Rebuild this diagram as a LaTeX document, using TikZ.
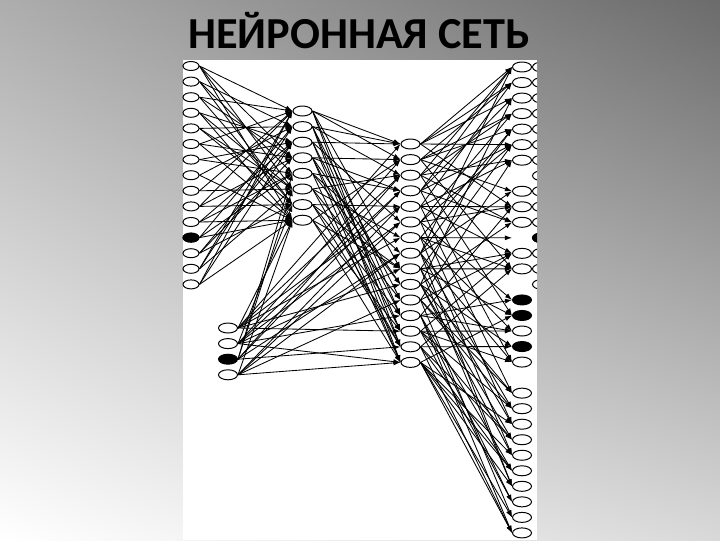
\documentclass[tikz,border=0pt]{standalone}
\usepackage{fontspec}
\setmainfont{Carlito}
\usetikzlibrary{shapes.geometric,arrows.meta,shadings}
\tikzset{
  neuron/.style={ellipse,draw,line width=0.7pt,minimum width=4.75mm,minimum height=2.5mm,inner sep=0pt,fill=white},
  small neuron/.style={neuron,minimum width=4mm,minimum height=2.25mm},
  active/.style={fill=black},
  link/.style={-{Latex[length=5pt,width=3.5pt]},line width=0.6pt},
}
\begin{document}
\begin{tikzpicture}[x=0.025cm,y=-0.025cm]
\useasboundingbox (0,0) rectangle (720,540);
\shade[upper left=black!32,upper right=black!58,lower left=white,lower right=black!15] (0,0) rectangle (720,540);
\draw (359,48) node [anchor=base] (title) {\fontsize{31.5}{31.5}\selectfont\bfseries НЕЙРОННАЯ СЕТЬ};
\fill[white] (183,60) rectangle (537,540);
% second output column, cut by the edge of the panel
\begin{scope}
\clip (183,60) rectangle (537,540);
\foreach \k in {0,...,14}
  \draw (542,{67+15.53*\k}) node [neuron] (r\k) {};
\draw (542,{67+15.53*11}) node [neuron,active] (r11) {};
\end{scope}
% input layers
\foreach \i in {1,...,15}
  \draw (191,{66+15.6*(\i-1)}) node [small neuron] (in\i) {};
\draw (191,{66+15.6*11}) node [small neuron,active] (in12) {};
\foreach \i in {1,2,4}
  \draw (228,{328+15.6*(\i-1)}) node [neuron] (ib\i) {};
\draw (228,{328+15.6*2}) node [neuron,active] (ib3) {};
% hidden layers
\foreach \i in {1,...,8}
  \draw (302.5,{111+15.6*(\i-1)}) node [neuron] (h\i) {};
\foreach \i in {1,...,15}
  \draw (410.5,{144+15.6*(\i-1)}) node [neuron] (g\i) {};
% output layer
\foreach \k in {0,1,2,3,4,5,6,8,9,10,12,13,17,19,21,22,23,24,25,26,27,28,29,30}
  \draw (522,{67+15.53*\k}) node [neuron] (o\k) {};
\foreach \k in {15,16,18}
  \draw (522,{67+15.53*\k}) node [neuron,active] (o\k) {};
\draw (522,{67+15.53*11}) node [neuron,draw=none,fill=none] (o11) {};
% connections
\foreach \a/\b in {1/1,1/4,1/6,1/8,2/2,2/5,2/7,3/1,3/4,3/7,4/3,4/6,4/8,5/2,5/6,5/7,6/4,6/1,6/8,
    7/5,7/3,8/2,8/8,9/6,9/1,10/7,10/4,10/1,11/8,11/3,11/5,12/5,12/2,12/8,13/4,13/7,13/3,
    14/1,14/6,14/2,15/3,15/8,15/1}
  \path[link] (in\a.east) edge (h\b.west);
\foreach \a/\b in {1/8,2/7,3/6,4/8,3/5}
  \path[link] (ib\a.east) edge (h\b.west);
\foreach \a/\b in {1/3,1/10,1/13,2/6,2/12,2/15,3/4,3/8,3/14,4/5,4/11,4/15,1/7,2/9,
    1/1,2/2,3/3,4/6,1/5,4/8,2/4}
  \path[link] (ib\a.east) edge (g\b.west);
\foreach \a/\b in {1/1,1/9,1/14,1/12,1/2,2/3,2/11,2/15,2/13,2/1,3/1,3/6,3/12,3/14,
    4/2,4/10,4/13,4/15,4/4,5/4,5/8,5/15,5/10,6/3,6/7,6/11,6/14,7/5,7/12,7/14,7/9,
    8/2,8/9,8/13,8/15}
  \path[link] (h\a.east) edge (g\b.west);
\foreach \a/\b in {1/0,1/2,1/5,1/9,1/1,2/1,2/4,2/8,2/13,2/3,3/0,3/3,3/6,3/16,3/10,
    4/2,4/5,4/10,4/19,4/0,5/1,5/6,5/12,5/21,5/9,6/3,6/9,6/15,6/23,6/5,
    7/4,7/11,7/17,7/25,7/13,8/0,8/8,8/19,8/22,8/4,8/27,
    9/5,9/13,9/16,9/27,9/12,9/23,10/2,10/10,10/18,10/24,10/21,10/25,
    11/6,11/12,11/21,11/29,11/22,12/9,12/15,12/26,12/30,12/28,12/17,
    13/12,13/17,13/22,13/28,13/24,13/19,14/13,14/18,14/24,14/30,14/26,
    15/16,15/23,15/25,15/27,15/29,15/26,15/30}
  \path[link] (g\a.east) edge (o\b.west);
\end{tikzpicture}
\end{document}
